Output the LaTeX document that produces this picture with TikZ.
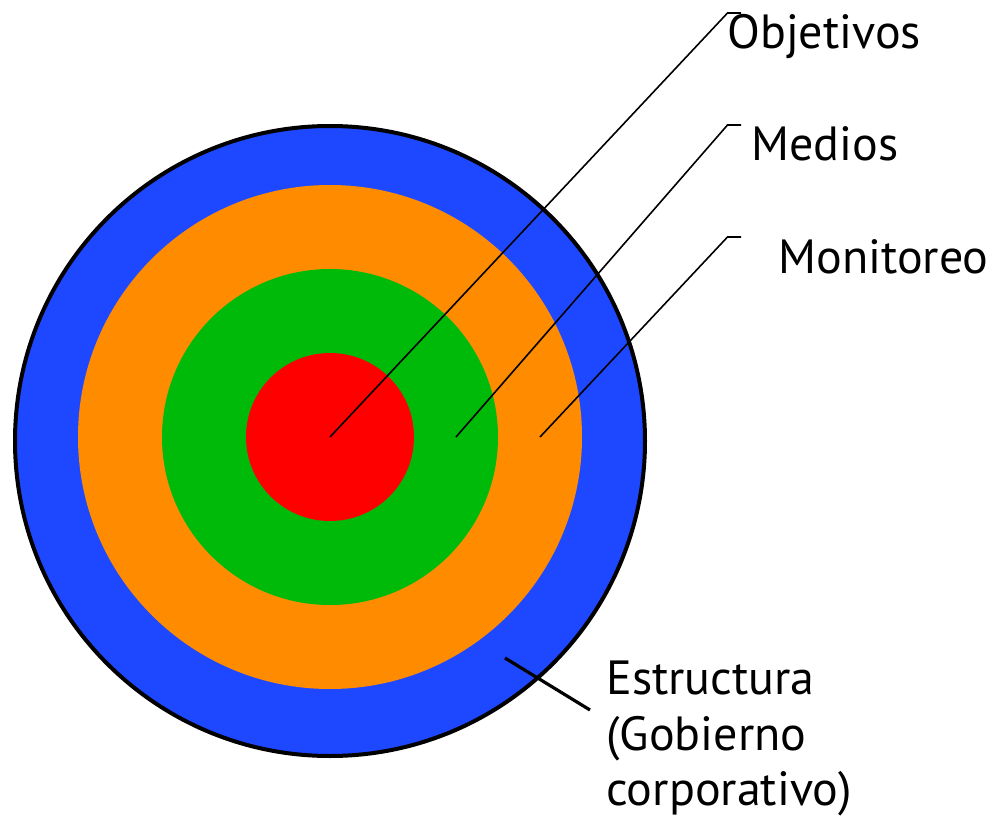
\documentclass[tikz,border=0pt]{standalone}
\usepackage{fontspec}
\setmainfont{PT Sans}
\definecolor{ringblue}{RGB}{30,72,255}
\definecolor{ringorange}{RGB}{255,140,0}
\definecolor{ringgreen}{RGB}{0,186,10}
\definecolor{ringred}{RGB}{255,0,0}
\begin{document}
\begin{tikzpicture}[x=0.5pt,y=-0.5pt,
  lbl/.style={anchor=base west,inner sep=0pt,font=\fontsize{24}{28}\selectfont},
  leader/.style={draw=black,line width=0.8pt},
  thickleader/.style={draw=black,line width=1.6pt}]
\useasboundingbox (0,0) rectangle (992,819);
% rings
\fill[ringblue,draw=black,line width=2pt] (330,441) circle[radius=315];
\fill[ringorange] (330,437) circle[radius=252];
\fill[ringgreen] (330,437) circle[radius=168];
\fill[ringred] (330,437) circle[radius=84];
% anchor points
\coordinate (pObj) at (330,437);
\coordinate (pMed) at (456,437);
\coordinate (pMon) at (540,437);
\coordinate (kObj) at (727.5,13);
\coordinate (eObj) at (741,13);
\coordinate (kMed) at (727.5,125);
\coordinate (eMed) at (741,125);
\coordinate (kMon) at (727.5,237);
\coordinate (eMon) at (741,237);
\coordinate (sA) at (505,658);
\coordinate (sB) at (590,710);
% labels
\node[lbl] (tObj) at (727,48) {Objetivos};
\node[lbl] (tMed) at (751,160) {Medios};
\node[lbl] (tMon) at (778,273) {Monitoreo};
\node[lbl] (tEst1) at (606,694) {Estructura};
\node[lbl] (tEst2) at (606,750) {(Gobierno};
\node[lbl] (tEst3) at (606,805.5) {corporativo)};
% leaders
\draw[leader] (pObj) -- (kObj) -- (eObj);
\draw[leader] (pMed) -- (kMed) -- (eMed);
\draw[leader] (pMon) -- (kMon) -- (eMon);
\draw[thickleader] (sA) -- (sB);
\end{tikzpicture}
\end{document}
